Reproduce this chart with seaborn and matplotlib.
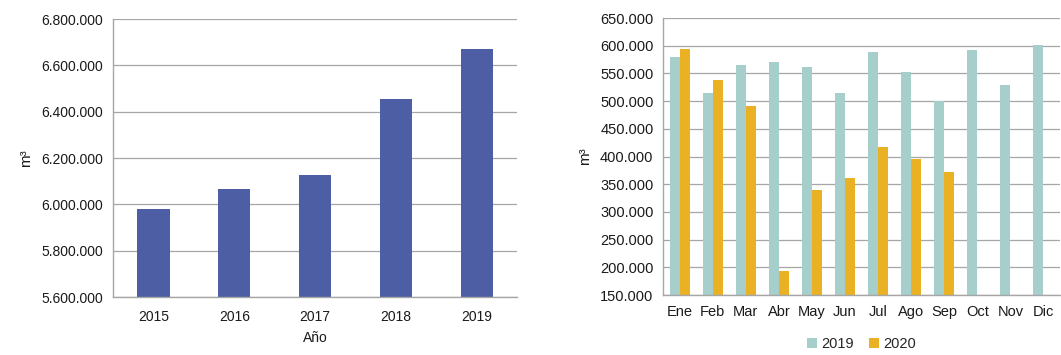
import seaborn as sns
import pandas as pd
import numpy as np
import matplotlib.pyplot as plt
from matplotlib.ticker import FuncFormatter, FixedLocator

years = ['2015', '2016', '2017', '2018', '2019']
annual = [5980000, 6068000, 6128000, 6456000, 6670000]

months = ['Ene', 'Feb', 'Mar', 'Abr', 'May', 'Jun', 'Jul', 'Ago', 'Sep', 'Oct', 'Nov', 'Dic']
m2019 = [580000, 514000, 566000, 571000, 562000, 514000, 588000, 552000, 501000, 592000, 529000, 601000]
m2020 = [595000, 538000, 491000, 194000, 339000, 361000, 417000, 395000, 373000, np.nan, np.nan, np.nan]

sns.set_style('white')
plt.rcParams['font.family'] = ['Liberation Sans', 'DejaVu Sans']

fmt = FuncFormatter(lambda v, p: f'{int(round(v)):,}'.replace(',', '.'))
grid_c = '#A6A6A6'
text_c = '#1A1A1A'

fig = plt.figure(figsize=(10.61, 3.55), dpi=100)
ax1 = fig.add_axes([0.1065, 0.163, 0.381, 0.783])
ax2 = fig.add_axes([0.625, 0.169, 0.374, 0.780])

# annual chart
df1 = pd.DataFrame({'Año': years, 'm3': annual})
sns.barplot(df1, x='Año', y='m3', color='#4D5EA4', saturation=1, width=0.4,
            linewidth=0, ax=ax1)
ax1.set_ylim(5600000, 6800000)
ax1.set_yticks(np.arange(5600000, 6800001, 200000))
ax1.yaxis.set_major_formatter(fmt)
ax1.set_xlabel('Año', fontsize=10, color=text_c, labelpad=5)
ax1.set_ylabel('m³', fontsize=11, color=text_c, labelpad=6)

# monthly chart
df2 = pd.DataFrame({'Mes': months * 2,
                    'Año': ['2019'] * 12 + ['2020'] * 12,
                    'm3': m2019 + m2020})
sns.barplot(df2, x='Mes', y='m3', hue='Año', palette=['#A6CFCB', '#EAB125'],
            saturation=1, width=0.6, linewidth=0, ax=ax2)
ax2.set_ylim(150000, 650000)
ax2.set_yticks(np.arange(150000, 650001, 50000))
ax2.yaxis.set_major_formatter(fmt)
ax2.set_xlabel('')
ax2.set_ylabel('m³', fontsize=11, color=text_c, labelpad=6)
h, l = ax2.get_legend_handles_labels()
ax2.legend(h, l, loc='upper center', bbox_to_anchor=(0.5, -0.115), ncol=2, frameon=False,
           fontsize=10.5, handlelength=0.7, handleheight=0.7, handletextpad=0.3,
           columnspacing=1.0, borderpad=0.2)

for ax, n in ((ax1, len(years)), (ax2, len(months))):
    ax.set_xlim(-0.5, n - 0.5)
    ax.set_axisbelow(True)
    ax.grid(axis='y', color=grid_c, linewidth=0.9)
    for s in ('top', 'right'):
        ax.spines[s].set_visible(False)
    for s in ('left', 'bottom'):
        ax.spines[s].set_color(grid_c)
        ax.spines[s].set_linewidth(1.0)
    ax.tick_params(axis='y', length=4, color=grid_c, labelsize=10, labelcolor=text_c, pad=3)
    ax.tick_params(axis='x', which='major', length=0, labelsize=10, labelcolor=text_c, pad=9)
    ax.xaxis.set_minor_locator(FixedLocator(np.arange(-0.5, n, 1.0)))
    ax.tick_params(axis='x', which='minor', length=4, color=grid_c)

ax2.tick_params(axis='x', which='major', labelsize=10.5, pad=7)
ax2.tick_params(axis='y', labelsize=10.5)

fig.savefig('out.png', dpi=100)
